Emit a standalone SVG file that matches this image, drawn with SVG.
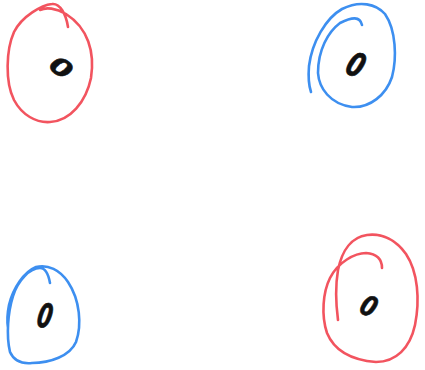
<svg xmlns="http://www.w3.org/2000/svg" width="425" height="370" viewBox="0 0 425 370">
<style>
.ring{fill:none;stroke-width:2.6;stroke-linecap:round;stroke-linejoin:round}
.red{stroke:#f2545f}
.blue{stroke:#3d8ff0}
.zero{font-family:"DejaVu Sans",sans-serif;font-weight:bold;font-style:italic;font-size:28px;fill:#111;stroke:#111;stroke-width:0.6;text-anchor:middle;dominant-baseline:central}
</style>
<rect width="425" height="370" fill="#fff"/>
<g id="node-top-left">
<path class="ring red" d="M68,27 C66,14 60,3 52,4 C42,5 22,16 14,32 C6,50 5,82 14,100 C22,115 36,123 50,122 C70,121 86,102 91,78 C95,52 88,28 66,14 C56,8 46,7 40,10"/>
<text class="zero" transform="translate(61,68) rotate(35) scale(1.15,0.85)">0</text>
</g>
<g id="node-top-right">
<path class="ring blue" d="M362,25 C360,16 352,17 340,23 C328,32 318,50 318,73 C319,88 330,104 352,107 C370,108 386,95 392,77 C397,58 396,30 385,14 C376,4 360,0 342,9 C326,18 312,42 309,66 C308,78 309,86 311,92"/>
<text class="zero" transform="translate(356,65) rotate(25) scale(0.85,1.2)">0</text>
</g>
<g id="node-bottom-left">
<path class="ring blue" d="M50,283 C48,272 45,268 40,268 C30,268 18,280 13,296 C8,312 6,335 10,352 C14,361 22,364 32,363 C50,363 70,356 76,342 C82,325 80,300 68,282 C60,270 48,264 36,267 C24,272 13,288 9,305 C7,315 7,322 8,328"/>
<text class="zero" transform="translate(45,316) rotate(12) scale(0.75,1.2)">0</text>
</g>
<g id="node-bottom-right">
<path class="ring red" d="M382,268 C382,260 378,254 366,253 C355,253 338,262 330,278 C323,292 321,315 327,333 C334,350 350,360 376,362 C396,362 410,348 415,325 C420,300 418,272 406,254 C396,240 382,233 367,235 C352,237 342,250 338,270 C335,288 336,305 338,320"/>
<text class="zero" transform="translate(369,306) rotate(25) scale(0.8,1.0)">0</text>
</g>
</svg>
